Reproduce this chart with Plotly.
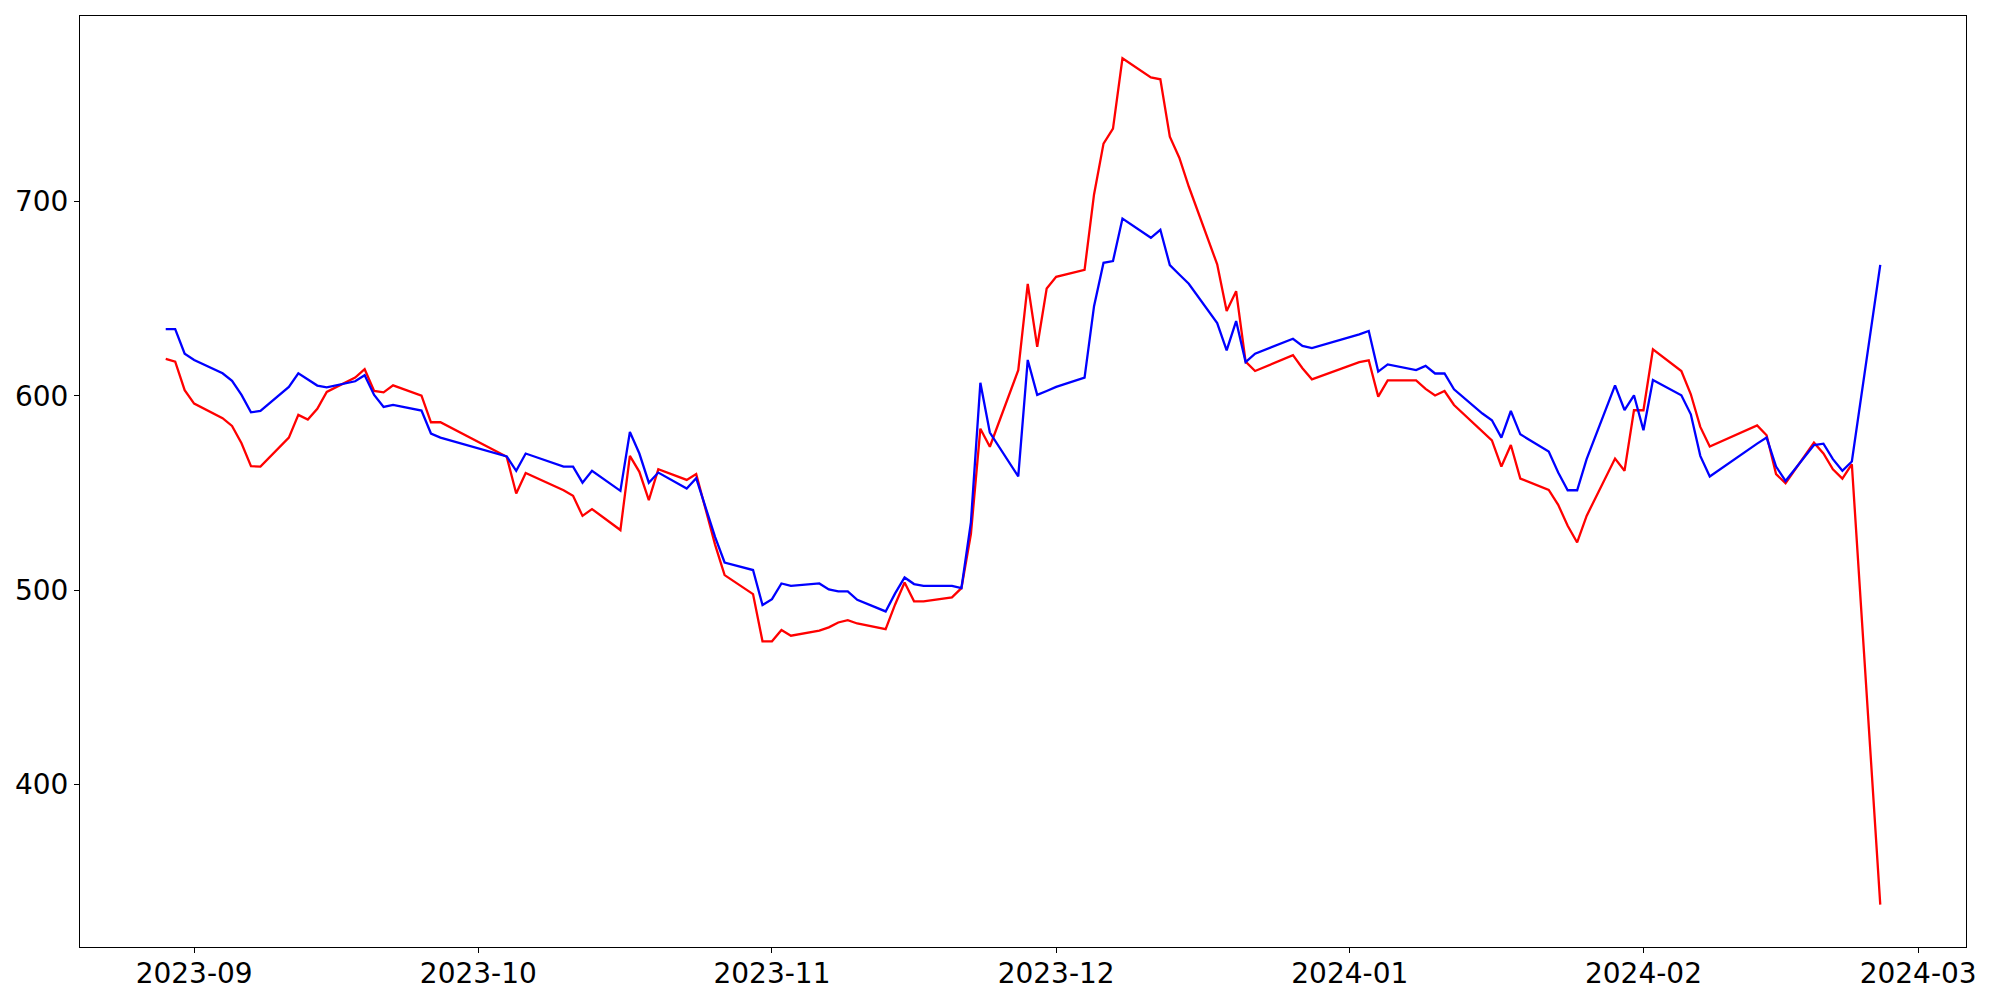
import pandas as pd
import plotly.graph_objects as go

dates = [
    "2023-08-29", "2023-08-30", "2023-08-31", "2023-09-01", "2023-09-04", "2023-09-05",
    "2023-09-06", "2023-09-07", "2023-09-08", "2023-09-11", "2023-09-12", "2023-09-13",
    "2023-09-14", "2023-09-15", "2023-09-18", "2023-09-19", "2023-09-20", "2023-09-21",
    "2023-09-22", "2023-09-25", "2023-09-26", "2023-09-27", "2023-10-04", "2023-10-05",
    "2023-10-06", "2023-10-10", "2023-10-11", "2023-10-12", "2023-10-13", "2023-10-16",
    "2023-10-17", "2023-10-18", "2023-10-19", "2023-10-20", "2023-10-23", "2023-10-24",
    "2023-10-25", "2023-10-26", "2023-10-27", "2023-10-30", "2023-10-31", "2023-11-01",
    "2023-11-02", "2023-11-03", "2023-11-06", "2023-11-07", "2023-11-08", "2023-11-09",
    "2023-11-10", "2023-11-13", "2023-11-14", "2023-11-15", "2023-11-16", "2023-11-17",
    "2023-11-20", "2023-11-21", "2023-11-22", "2023-11-23", "2023-11-24", "2023-11-27",
    "2023-11-28", "2023-11-29", "2023-11-30", "2023-12-01", "2023-12-04", "2023-12-05",
    "2023-12-06", "2023-12-07", "2023-12-08", "2023-12-11", "2023-12-12", "2023-12-13",
    "2023-12-14", "2023-12-15", "2023-12-18", "2023-12-19", "2023-12-20", "2023-12-21",
    "2023-12-22", "2023-12-26", "2023-12-27", "2023-12-28", "2024-01-02", "2024-01-03",
    "2024-01-04", "2024-01-05", "2024-01-08", "2024-01-09", "2024-01-10", "2024-01-11",
    "2024-01-12", "2024-01-15", "2024-01-16", "2024-01-17", "2024-01-18", "2024-01-19",
    "2024-01-22", "2024-01-23", "2024-01-24", "2024-01-25", "2024-01-26", "2024-01-29",
    "2024-01-30", "2024-01-31", "2024-02-01", "2024-02-02", "2024-02-05", "2024-02-06",
    "2024-02-07", "2024-02-08", "2024-02-13", "2024-02-14", "2024-02-15", "2024-02-16",
    "2024-02-19", "2024-02-20", "2024-02-21", "2024-02-22", "2024-02-23", "2024-02-26",
]

red_values = [
    619.0, 617.6, 602.9, 596.0, 588.5, 584.5, 575.6, 563.8, 563.6, 578.5, 590.2, 587.8,
    593.3, 602.0, 609.4, 613.7, 602.5, 601.8, 605.4, 600.1, 586.4, 586.4, 568.6, 549.7,
    560.3, 551.4, 548.5, 538.2, 541.7, 530.9, 569.1, 560.9, 546.3, 562.2, 556.7, 559.7,
    541.5, 523.3, 507.7, 497.9, 473.6, 473.6, 479.4, 476.5, 479.1, 480.8, 483.3, 484.5,
    482.8, 479.9, 492.6, 503.9, 494.2, 494.2, 496.2, 501.0, 528.8, 583.1, 573.8, 613.2,
    657.7, 625.3, 655.3, 661.3, 664.9, 703.7, 729.9, 737.6, 773.8, 764.0, 763.0, 733.4,
    722.6, 707.8, 667.7, 643.7, 653.9, 617.6, 612.8, 621.0, 614.2, 608.5, 617.4, 618.3,
    599.6, 608.0, 608.0, 603.6, 600.2, 602.5, 595.3, 581.6, 577.1, 563.6, 574.7, 557.4,
    551.6, 543.9, 533.1, 524.5, 538.2, 567.7, 561.4, 592.6, 592.6, 624.0, 612.8, 600.8,
    584.0, 573.9, 584.8, 579.7, 559.7, 555.0, 575.9, 570.3, 562.2, 557.4, 564.8, 338.0,
]

blue_values = [
    634.4, 634.4, 621.7, 618.5, 611.6, 607.7, 600.5, 591.5, 592.2, 604.6, 611.6, 608.3,
    605.3, 604.4, 607.5, 610.6, 600.5, 594.3, 595.3, 592.4, 580.6, 578.5, 568.8, 561.4,
    570.3, 563.6, 563.6, 555.3, 561.4, 551.1, 581.4, 570.3, 555.3, 560.5, 552.3, 557.6,
    542.5, 527.3, 514.2, 510.3, 492.3, 495.3, 503.4, 502.2, 503.4, 500.3, 499.3, 499.3,
    495.0, 489.0, 498.3, 506.5, 503.1, 502.2, 502.2, 501.0, 534.8, 606.7, 581.1, 558.5,
    618.5, 600.5, 602.5, 604.6, 609.4, 646.2, 668.5, 669.4, 691.3, 681.4, 685.5, 667.3,
    662.5, 657.7, 637.5, 623.4, 638.5, 617.4, 621.7, 629.4, 625.7, 624.6, 631.7, 633.4,
    612.5, 616.2, 613.3, 615.4, 611.5, 611.6, 603.4, 590.9, 587.4, 578.5, 592.2, 580.2,
    571.3, 560.5, 551.4, 551.4, 567.4, 605.4, 592.7, 600.3, 582.3, 608.2, 600.3, 590.5,
    569.1, 558.5, 575.4, 578.5, 563.6, 556.2, 574.7, 575.4, 567.4, 561.4, 566.2, 667.4,
]

x_tick_labels = ["2023-09", "2023-10", "2023-11", "2023-12", "2024-01", "2024-02", "2024-03"]
y_tick_values = [400, 500, 600, 700]

x = pd.to_datetime(dates)
x_tick_vals = pd.to_datetime([t + "-01" for t in x_tick_labels])

# matplotlib-style 5% data margins
span = x.max() - x.min()
x_range = [x.min() - 0.05 * span, x.max() + 0.05 * span]
all_vals = red_values + blue_values
ymin, ymax = min(all_vals), max(all_vals)
yspan = ymax - ymin
y_range = [ymin - 0.05 * yspan, ymax + 0.05 * yspan]

fig = go.Figure()
fig.add_trace(go.Scatter(x=x, y=red_values, mode="lines",
                         line=dict(color="#ff0000", width=2.3), name="red"))
fig.add_trace(go.Scatter(x=x, y=blue_values, mode="lines",
                         line=dict(color="#0000ff", width=2.3), name="blue"))

axis_common = dict(
    showgrid=False, zeroline=False, showline=True, mirror=True,
    linecolor="black", linewidth=1, ticks="outside", ticklen=5,
    tickwidth=1, tickcolor="black",
    tickfont=dict(family="DejaVu Sans", size=28, color="black"),
)

fig.update_layout(
    width=2000, height=1000,
    margin=dict(l=70, r=42, t=7, b=61),
    paper_bgcolor="white", plot_bgcolor="white",
    showlegend=False,
    xaxis=dict(range=x_range, tickvals=x_tick_vals, ticktext=x_tick_labels, **axis_common),
    yaxis=dict(range=y_range, tickvals=y_tick_values,
               ticktext=[str(v) for v in y_tick_values], **axis_common),
)

try:
    fig.update_xaxes(ticklabelstandoff=-4)
except Exception:
    pass

fig.write_html("out.html")
